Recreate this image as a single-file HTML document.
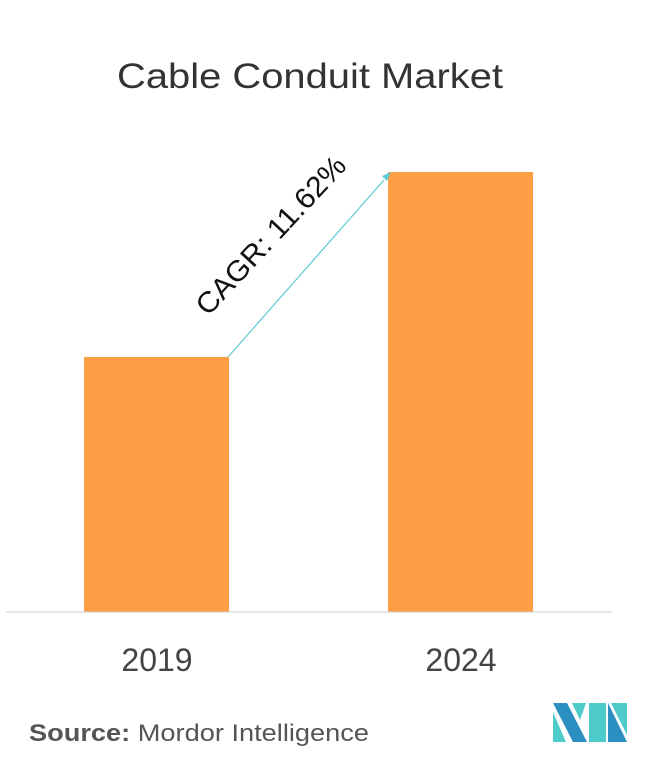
<!DOCTYPE html>
<html><head><style>
body{margin:0;width:655px;height:767px;background:#fff;overflow:hidden;font-family:"Liberation Sans",sans-serif}
</style></head><body>
<svg width="655" height="767" xmlns="http://www.w3.org/2000/svg">
<text x="117" y="88" font-size="35" fill="#333" textLength="386" lengthAdjust="spacingAndGlyphs">Cable Conduit Market</text>
<rect x="84" y="357" width="145" height="255" fill="#fd9d44"/>
<rect x="388" y="172" width="145" height="440" fill="#fd9d44"/>
<line x1="6" y1="612" x2="612" y2="612" stroke="#ccc" stroke-width="1"/>
<line x1="228" y1="357" x2="384" y2="180" stroke="#5ccad0" stroke-width="1.2"/>
<polygon points="391,172 382,176 387,181" fill="#5ccad0"/>
<text x="278" y="242" text-anchor="middle" font-size="29" fill="#111" textLength="205" lengthAdjust="spacingAndGlyphs" transform="rotate(-47 278 242)">CAGR: 11.62%</text>
<text x="157" y="671" text-anchor="middle" font-size="32" fill="#444">2019</text>
<text x="461" y="671" text-anchor="middle" font-size="32" fill="#444">2024</text>
<text x="29" y="741" font-size="24" fill="#555" textLength="340" lengthAdjust="spacingAndGlyphs"><tspan font-weight="bold">Source:</tspan> Mordor Intelligence</text>
<polygon points="553,703 567,703 587,742 573,742" fill="#2b8fc2"/>
<polygon points="553,712 566,742 553,742" fill="#4ecbcb"/>
<polygon points="572,703 586,703 580,720" fill="#4ecbcb"/>
<polygon points="589,703 606,703 606,742 589,742" fill="#4ecbcb"/>
<polygon points="608,703 627,742 608,742" fill="#2b8fc2"/>
<polygon points="611,703 627,703 627,735" fill="#4ecbcb"/>
</svg>
</body></html>
